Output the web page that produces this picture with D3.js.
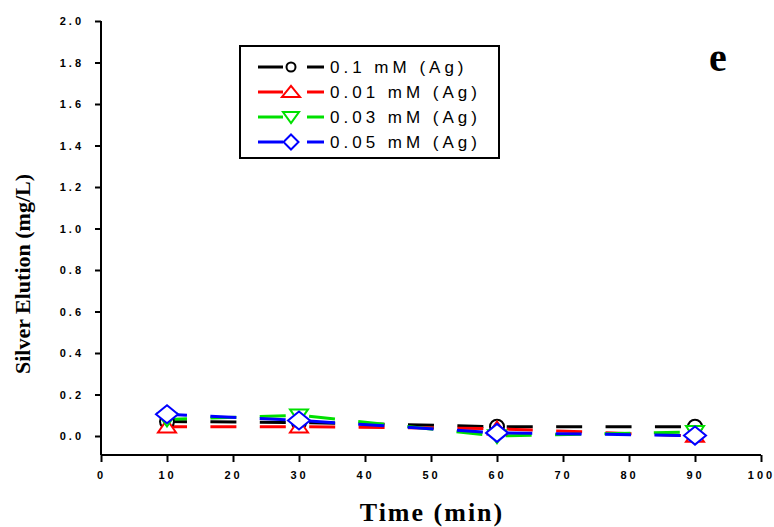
<!DOCTYPE html>
<html>
<head>
<meta charset="utf-8">
<script src="https://cdn.jsdelivr.net/npm/d3@7"></script>
<style>
  html, body { margin: 0; padding: 0; background: #fff; }
  svg { display: block; }
</style>
</head>
<body>
<svg id="chart" width="774" height="527"></svg>
<script>
// Elution time points (min)
const times = [10, 30, 60, 90];

// Silver elution (mg/L) per Ag concentration
const seriesNames = ["0.1 mM (Ag)", "0.01 mM (Ag)", "0.03 mM (Ag)", "0.05 mM (Ag)"];
const agHigh   = [0.070, 0.065, 0.045, 0.045];   // 0.1 mM
const agLow    = [0.045, 0.045, 0.035, 0.000];   // 0.01 mM
const agMid    = [0.080, 0.100, 0.000, 0.020];   // 0.03 mM
const agMidHi  = [0.105, 0.075, 0.015, 0.002];   // 0.05 mM

// Axis ticks
const xTicks = [0, 10, 20, 30, 40, 50, 60, 70, 80, 90, 100];
const yTicks = [0.0, 0.2, 0.4, 0.6, 0.8, 1.0, 1.2, 1.4, 1.6, 1.8, 2.0];

const colors = ["#000000", "#ff0000", "#00e000", "#0000ff"];
const symbols = ["circle", "triangleUp", "triangleDown", "diamond"];
const seriesValues = [agHigh, agLow, agMid, agMidHi];

const svg = d3.select("#chart");

const x = d3.scaleLinear().domain([0, 100]).range([101, 761]);
const y = d3.scaleLinear().domain([0, 2]).range([436, 21]);
const yAxisBottom = -0.0916;   // x axis sits slightly below zero

// Axes
const xAxis = d3.axisBottom(x).tickValues(xTicks).tickSize(7).tickSizeOuter(0)
  .tickFormat(d3.format("d"));
const gx = svg.append("g").attr("transform", `translate(0,${y(yAxisBottom)})`).call(xAxis);

const yAxis = d3.axisLeft(y).tickValues(yTicks).tickSize(6).tickSizeOuter(0)
  .tickFormat(d3.format(".1f"));
const gy = svg.append("g").attr("transform", `translate(${x(0)},0)`).call(yAxis);

[gx, gy].forEach(g => {
  g.select(".domain").attr("stroke", "#000").attr("stroke-width", 2);
  g.selectAll(".tick line").attr("stroke", "#000").attr("stroke-width", 2);
  g.selectAll(".tick text")
    .attr("fill", "#000")
    .style("font-family", "'Liberation Sans', Arial, sans-serif")
    .style("font-weight", "bold")
    .style("font-size", "11px")
    .style("letter-spacing", "3px");
});
// y axis domain line extends down to the x axis
gy.select(".domain").attr("d", `M0,${y(2)}V${y(yAxisBottom)}`);
gx.select(".domain").attr("d", `M${x(0)},0H${x(100)}`);
gx.selectAll(".tick text").attr("dy", "1.3em");
gy.selectAll(".tick text").attr("x", -17);

// Symbol shapes (open markers, white fill)
function symbolPath(kind, w, h) {
  h = h || w;
  switch (kind) {
    case "circle":
      return d3.symbol().type(d3.symbolCircle).size(Math.PI * w * w / 4)();
    case "triangleUp":
      return `M0,${-h * 0.55}L${w * 0.5},${h * 0.45}L${-w * 0.5},${h * 0.45}Z`;
    case "triangleDown":
      return `M0,${h * 0.55}L${w * 0.5},${-h * 0.45}L${-w * 0.5},${-h * 0.45}Z`;
    case "diamond":
      return `M0,${-h * 0.5}L${w * 0.5},0L0,${h * 0.5}L${-w * 0.5},0Z`;
  }
}
const plotSizes = [[14, 14], [18, 13], [18, 13], [22, 18]];
const legendSizes = [[9, 9], [18, 11], [16, 11], [15, 15]];

// Dashed connecting lines
const line = d3.line().x(d => x(d.t)).y(d => y(d.v));
const plot = svg.append("g");
seriesValues.forEach((vals, i) => {
  const pts = times.map((t, j) => ({ t, v: vals[j] }));
  plot.append("path")
    .attr("d", line(pts))
    .attr("fill", "none")
    .attr("stroke", colors[i])
    .attr("stroke-width", 3)
    .attr("stroke-dasharray", "26 23.4")
    .attr("stroke-dashoffset", 6);
});
// Markers
seriesValues.forEach((vals, i) => {
  plot.selectAll(null)
    .data(times.map((t, j) => ({ t, v: vals[j] })))
    .enter().append("path")
    .attr("transform", d => `translate(${x(d.t)},${y(d.v)})`)
    .attr("d", symbolPath(symbols[i], plotSizes[i][0], plotSizes[i][1]))
    .attr("fill", "#fff")
    .attr("stroke", colors[i])
    .attr("stroke-width", 2);
});

// Legend
const legend = svg.append("g");
legend.append("rect")
  .attr("x", 240).attr("y", 46).attr("width", 259).attr("height", 112)
  .attr("fill", "#fff").attr("stroke", "#000").attr("stroke-width", 2);
seriesNames.forEach((name, i) => {
  const ly = 67 + i * 25;
  const row = legend.append("g");
  row.append("line").attr("x1", 258).attr("x2", 283).attr("y1", ly).attr("y2", ly)
    .attr("stroke", colors[i]).attr("stroke-width", 3);
  row.append("line").attr("x1", 307).attr("x2", 324).attr("y1", ly).attr("y2", ly)
    .attr("stroke", colors[i]).attr("stroke-width", 3);
  row.append("path")
    .attr("transform", `translate(291,${ly})`)
    .attr("d", symbolPath(symbols[i], legendSizes[i][0], legendSizes[i][1]))
    .attr("fill", "#fff").attr("stroke", colors[i]).attr("stroke-width", 2);
  row.append("text")
    .attr("x", 330).attr("y", ly).attr("dy", "0.36em")
    .style("font-family", "'Liberation Sans', Arial, sans-serif")
    .style("font-size", "17px")
    .style("letter-spacing", "4px")
    .text(name);
});

// Panel letter
svg.append("text")
  .attr("x", 718).attr("y", 71).attr("text-anchor", "middle")
  .style("font-family", "'Liberation Serif', 'Times New Roman', serif")
  .style("font-weight", "bold")
  .style("font-size", "40px")
  .text("e");

// Axis titles
svg.append("text")
  .attr("x", 432).attr("y", 521).attr("text-anchor", "middle")
  .style("font-family", "'Liberation Serif', 'Times New Roman', serif")
  .style("font-weight", "bold")
  .style("font-size", "26px")
  .style("letter-spacing", "2px")
  .text("Time (min)");
svg.append("text")
  .attr("transform", "translate(30,274) rotate(-90)")
  .attr("text-anchor", "middle")
  .style("font-family", "'Liberation Serif', 'Times New Roman', serif")
  .style("font-weight", "bold")
  .style("font-size", "22px")
  .text("Silver Elution (mg/L)");
</script>
</body>
</html>
